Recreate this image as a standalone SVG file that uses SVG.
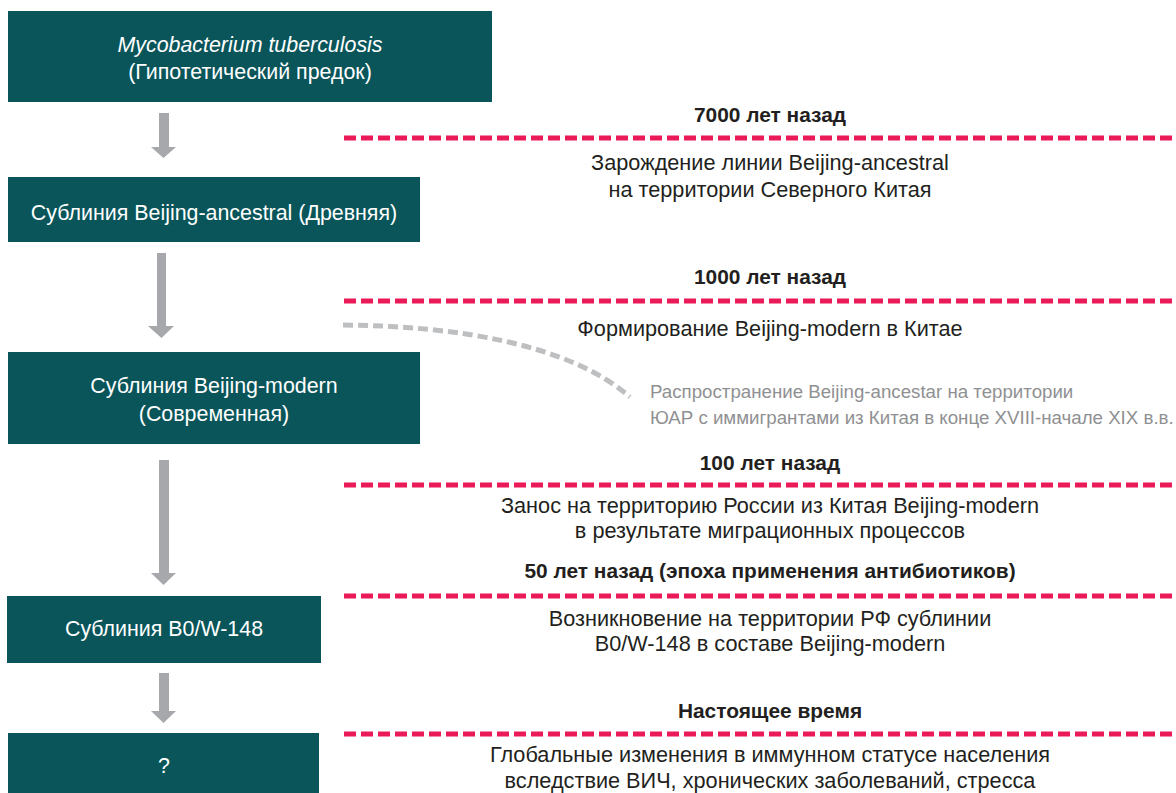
<svg xmlns="http://www.w3.org/2000/svg" width="1176" height="793" viewBox="0 0 1176 793">
<style>
.box{fill:#09555A}
.bt{font-family:"Liberation Sans",Arial,sans-serif;font-size:21.4px;fill:#FFFFFF;text-anchor:middle}
.rt{font-family:"Liberation Sans",Arial,sans-serif;font-size:21.7px;fill:#231F20;text-anchor:middle}
.hd{font-family:"Liberation Sans",Arial,sans-serif;font-size:20.9px;font-weight:bold;fill:#231F20;text-anchor:middle}
.gt{font-family:"Liberation Sans",Arial,sans-serif;font-size:18.7px;fill:#8F9092}
.arr{fill:#A7A8AB}
.pk{stroke:#EA1958;stroke-width:5;stroke-dasharray:12 5;fill:none}
.gd{stroke:#BEBFC1;stroke-width:5;stroke-dasharray:10 5;fill:none}
</style>
<rect width="1176" height="793" fill="#FFFFFF"/>
<g id="node-ancestor">
<rect class="box" x="8" y="11" width="484" height="91"/>
<text class="bt" x="250" y="52" font-style="italic">Mycobacterium tuberculosis</text>
<text class="bt" x="250" y="79">(Гипотетический предок)</text>
</g>
<g id="node-ancestral">
<rect class="box" x="8" y="177" width="412" height="65"/>
<text class="bt" x="214" y="220">Сублиния Beijing-ancestral (Древняя)</text>
</g>
<g id="node-modern">
<rect class="box" x="8" y="352" width="412" height="92"/>
<text class="bt" x="214" y="393">Сублиния Beijing-modern</text>
<text class="bt" x="214" y="421">(Современная)</text>
</g>
<g id="node-b0w148">
<rect class="box" x="7" y="596" width="314" height="67"/>
<text class="bt" x="164" y="636">Сублиния B0/W-148</text>
</g>
<g id="node-unknown">
<rect class="box" x="8" y="733" width="311" height="60"/>
<text class="bt" x="164" y="773">?</text>
</g>
<g id="connectors">
<path class="arr" d="M159,113 H169 V147 H176 L163.5,158 L151,147 H159 Z"/>
<path class="arr" d="M157,253 H166 V326 H174 L161.5,338 L148,326 H157 Z"/>
<path class="arr" d="M159,460 H169 V573 H176 L163.5,585 L151,573 H159 Z"/>
<path class="arr" d="M159,673 H169 V711 H176 L163.5,723 L151,711 H159 Z"/>
<path class="gd" d="M343,325 C460,326 570,345 630,397"/>
</g>
<g id="timeline">
<line class="pk" x1="344" y1="138" x2="1176" y2="138"/>
<line class="pk" x1="344" y1="301" x2="1176" y2="301"/>
<line class="pk" x1="344" y1="485" x2="1176" y2="485"/>
<line class="pk" x1="344" y1="596" x2="1176" y2="596"/>
<line class="pk" x1="344" y1="734" x2="1176" y2="734"/>
<text class="hd" x="770" y="122">7000 лет назад</text>
<text class="rt" x="770" y="170">Зарождение линии Beijing-ancestral</text>
<text class="rt" x="770" y="197">на территории Северного Китая</text>
<text class="hd" x="770" y="284">1000 лет назад</text>
<text class="rt" x="770" y="336">Формирование Beijing-modern в Китае</text>
<text class="gt" x="650" y="398">Распространение Beijing-ancestar на территории</text>
<text class="gt" x="650" y="424">ЮАР с иммигрантами из Китая в конце XVIII-начале XIX в.в.</text>
<text class="hd" x="770" y="470">100 лет назад</text>
<text class="rt" x="770" y="513">Занос на территорию России из Китая Beijing-modern</text>
<text class="rt" x="770" y="538">в результате миграционных процессов</text>
<text class="hd" x="770" y="578">50 лет назад (эпоха применения антибиотиков)</text>
<text class="rt" x="770" y="626">Возникновение на территории РФ сублинии</text>
<text class="rt" x="770" y="651">B0/W-148 в составе Beijing-modern</text>
<text class="hd" x="770" y="718">Настоящее время</text>
<text class="rt" x="770" y="762">Глобальные изменения в иммунном статусе населения</text>
<text class="rt" x="770" y="788">вследствие ВИЧ, хронических заболеваний, стресса</text>
</g>
</svg>
